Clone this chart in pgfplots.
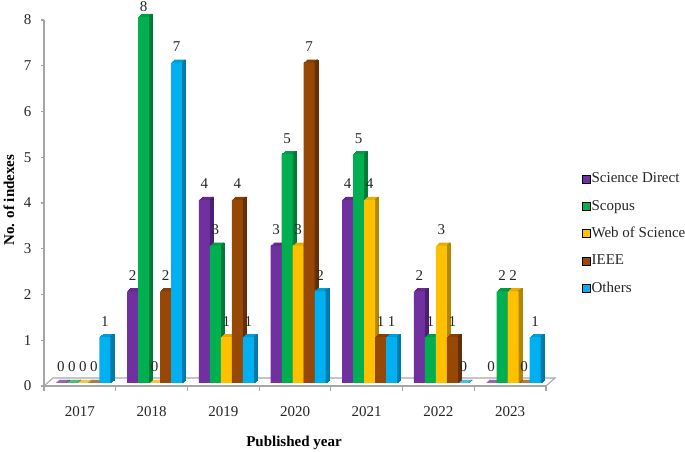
\documentclass[border=0pt]{standalone}
\usepackage{fontspec}
\setmainfont{Liberation Serif}
\usepackage{pgfplots}
\usepackage{pgfplotstable}
\pgfplotsset{compat=1.18}

\definecolor{sdfront}{HTML}{7030A0}
\definecolor{sdtop}{HTML}{63298F}
\definecolor{sdside}{HTML}{4B2070}
\definecolor{scfront}{HTML}{00B050}
\definecolor{sctop}{HTML}{009C46}
\definecolor{scside}{HTML}{007A38}
\definecolor{wsfront}{HTML}{FFC000}
\definecolor{wstop}{HTML}{E6AD00}
\definecolor{wsside}{HTML}{B38600}
\definecolor{iefront}{HTML}{974706}
\definecolor{ietop}{HTML}{863F05}
\definecolor{ieside}{HTML}{642F04}
\definecolor{otfront}{HTML}{00B0F0}
\definecolor{ottop}{HTML}{009CD6}
\definecolor{otside}{HTML}{007AA8}
\definecolor{axisgray}{HTML}{A6A6A6}

% one image pixel = 0.75pt
\newcommand{\lab}{\fontsize{11.25}{13}\selectfont}

\pgfplotstableread{
x sd sc ws ie ot
0 0 0 0 0 1
1 2 8 0 2 7
2 4 3 1 4 1
3 3 5 3 7 2
4 4 5 4 1 1
5 2 1 3 1 0
6 0 2 2 0 1
}\data

% depth slice: column, colour prefix, bar shift (pt), slice number
\newcommand{\slice}[4]{
  \pgfmathsetmacro{\sa}{#3+2.25+0.85*#4}
  \pgfmathsetmacro{\sb}{#3+2.25+0.85*#4+4.125-0.45}
  \pgfmathsetmacro{\sy}{2.25+0.75*#4}
  \edef\doslice{\noexpand\addplot[ybar,forget plot,bar width=8.25pt,bar shift=\sa pt,
    fill=#2top,draw=#2top,line width=0.3pt,yshift=\sy pt] table[x=x,y=#1] {\noexpand\data};
  \noexpand\addplot[ybar,forget plot,bar width=0.9pt,bar shift=\sb pt,
    fill=#2side,draw=#2side,line width=0.2pt,yshift=\sy pt] table[x=x,y=#1] {\noexpand\data};}
  \doslice
}
% whole bar series: column, colour prefix, bar shift (pt)
\newcommand{\barseries}[3]{
  \slice{#1}{#2}{#3}{3}
  \slice{#1}{#2}{#3}{2}
  \slice{#1}{#2}{#3}{1}
  \pgfmathsetmacro{\sa}{#3+2.25}
  \edef\dofront{\noexpand\addplot[ybar,forget plot,bar width=8.25pt,bar shift=\sa pt,
    fill=#2front,draw=none,yshift=2.25pt,
    nodes near coords,
    every node near coord/.append style={font=\noexpand\lab,text=black!85,anchor=center,inner sep=0pt,xshift=\sa pt,yshift=12pt},
    coordinate style/.condition={y==8}{yshift=-4.5pt}] table[x=x,y=#1] {\noexpand\data};}
  \dofront
}

\begin{document}
\begin{tikzpicture}
\path[use as bounding box] (0,0) rectangle (513.75pt,339pt);
\begin{axis}[
    at={(33pt,49.5pt)}, anchor=south west,
    scale only axis, width=376.5pt, height=274.5pt,
    clip=false,
    xmin=-0.5, xmax=6.5, ymin=0, ymax=8,
    axis x line*=bottom, axis y line*=left,
    x axis line style={-,draw=axisgray,line width=1.1pt},
    y axis line style={-,draw=axisgray,line width=0.8pt},
    xtick=data,
    xticklabels={2017,2018,2019,2020,2021,2022,2023},
    minor xtick={-0.5,0.5,...,6.5},
    ytick={0,1,...,8},
    tick align=outside,
    major x tick style={draw=none},
    minor tick length=3.5pt,
    minor tick style={draw=axisgray,line width=0.8pt},
    major y tick style={draw=axisgray,line width=0.8pt},
    major tick length=2.5pt,
    /pgf/number format/assume math mode=true,
    tick label style={font=\lab,text=black!85},
    xticklabel style={yshift=-9pt},
    yticklabel style={xshift=-3.5pt},
    xlabel={\textbf{Published year}},
    ylabel={\textbf{No. of indexes}},
    every axis x label/.style={at={(axis description cs:0.498,-0.155)},anchor=center,font=\lab},
    every axis y label/.style={at={(axis description cs:-0.0697,0.508)},anchor=center,rotate=90,font=\lab},
    legend style={at={(axis description cs:1.0717,0.585)},anchor=north west,draw=none,fill=none,
      inner sep=0pt,row sep=10.2pt,font=\lab,text=black!85,nodes={inner sep=0.6pt}},
    legend cell align=left,
    legend image code/.code={\fill[#1] (0pt,-3pt) rectangle (6pt,3pt);},
  ]
% floor of the 3D frame
\draw[axisgray,line width=0.8pt] (axis description cs:0,0) -- ++(6.75pt,6pt) -- ([xshift=6.75pt,yshift=6pt]axis description cs:1,0) -- (axis description cs:1,0);
\barseries{sd}{sd}{-16.5}
\barseries{sc}{sc}{-8.25}
\barseries{ws}{ws}{0}
\barseries{ie}{ie}{8.25}
\barseries{ot}{ot}{16.5}
\addlegendimage{fill=sdfront}
\addlegendimage{fill=scfront}
\addlegendimage{fill=wsfront}
\addlegendimage{fill=iefront}
\addlegendimage{fill=otfront}
\legend{Science Direct,Scopus,Web of Science,IEEE,Others}
\end{axis}
\end{tikzpicture}
\end{document}
